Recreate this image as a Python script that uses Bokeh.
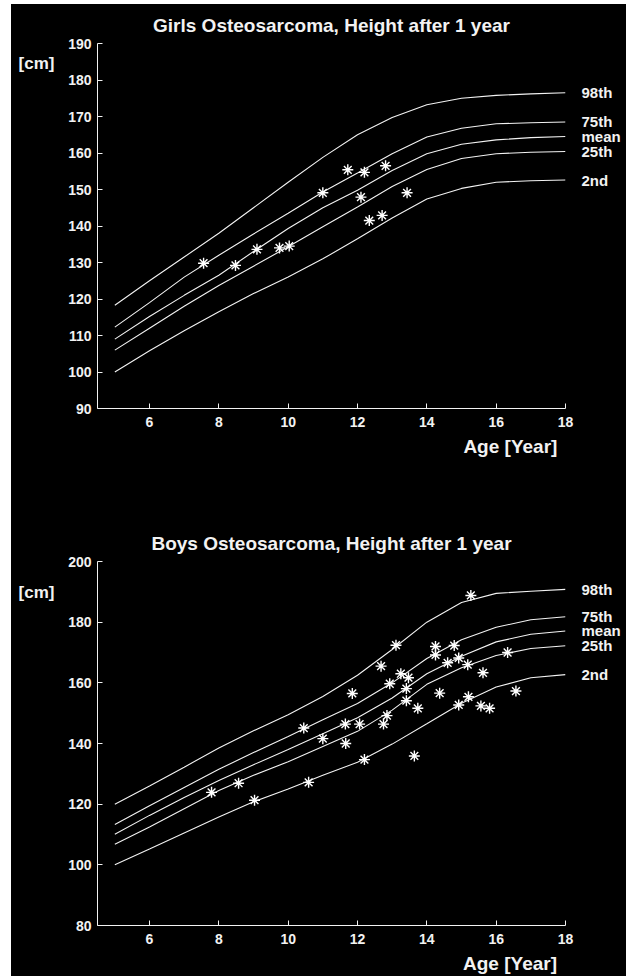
from bokeh.plotting import figure
from bokeh.models import FixedTicker, Range1d, LinearAxis
from bokeh.layouts import column
from bokeh.embed import file_html
from bokeh.resources import INLINE

# ---------------- data ----------------
ages = [5, 6, 7, 8, 9, 10, 11, 12, 13, 14, 15, 16, 17, 18]

girls_p98 = [118.3, 125.0, 131.5, 138.0, 145.0, 152.0, 158.8, 165.0, 169.7, 173.2, 175.0, 175.8, 176.2, 176.5]
girls_p75 = [112.3, 119.0, 126.0, 132.0, 137.8, 143.5, 149.3, 154.5, 159.8, 164.4, 166.8, 168.0, 168.3, 168.5]
girls_mean = [109.0, 115.2, 121.0, 126.5, 133.0, 139.3, 145.0, 149.8, 155.2, 159.8, 162.4, 163.6, 164.2, 164.5]
girls_p25 = [106.0, 112.0, 118.0, 123.7, 129.0, 134.3, 139.8, 145.2, 150.8, 155.5, 158.5, 159.8, 160.2, 160.4]
girls_p2 = [100.0, 105.8, 111.3, 116.5, 121.5, 126.0, 131.0, 136.5, 142.2, 147.4, 150.3, 152.0, 152.4, 152.6]

girls_age = [7.56, 8.48, 9.10, 9.75, 10.03, 11.0, 11.72, 12.2, 12.81, 12.1, 13.43, 12.34, 12.71]
girls_height = [129.8, 129.2, 133.6, 134.0, 134.5, 149.1, 155.4, 154.7, 156.5, 147.9, 149.1, 141.5, 142.9]

boys_p98 = [120.0, 126.0, 132.2, 138.5, 144.2, 149.5, 155.5, 162.5, 171.0, 180.0, 186.5, 189.5, 190.2, 190.8]
boys_p75 = [113.3, 119.5, 125.5, 131.5, 137.0, 142.3, 147.8, 153.2, 160.0, 168.0, 174.2, 178.3, 180.8, 181.8]
boys_mean = [110.1, 116.3, 122.2, 127.8, 133.0, 138.0, 143.2, 148.5, 155.0, 163.0, 168.8, 173.5, 176.0, 177.1]
boys_p25 = [106.8, 112.5, 118.5, 124.5, 129.5, 134.0, 139.0, 144.0, 151.0, 159.5, 165.0, 169.0, 171.3, 172.2]
boys_p2 = [100.0, 105.2, 110.5, 115.8, 120.8, 125.0, 129.5, 133.8, 139.8, 146.5, 153.3, 158.6, 161.7, 162.7]

boys_age = [7.79, 8.57, 9.03, 10.45, 10.59, 11.0,
            15.27, 13.11, 12.68, 11.85, 14.25, 14.79, 14.25, 14.92, 14.6, 15.18,
            16.33, 13.25, 13.47, 12.93, 13.41, 13.41, 15.62, 14.37, 13.74, 12.85,
            12.75, 12.06, 11.65, 11.66, 12.2, 13.64, 15.2, 14.92, 15.56, 15.81, 16.57]
boys_height = [123.9, 126.9, 121.3, 145.1, 127.2, 141.6,
               188.8, 172.4, 165.5, 156.5, 172.0, 172.3, 169.2, 168.2, 166.6, 166.0,
               170.0, 163.0, 161.7, 159.7, 158.1, 154.1, 163.3, 156.6, 151.6, 149.2,
               146.4, 146.4, 146.4, 140.0, 134.7, 135.9, 155.4, 152.7, 152.4, 151.6, 157.3]

curve_names = ["98th", "75th", "mean", "25th", "2nd"]
x_ticks = [6, 8, 10, 12, 14, 16, 18]
girls_y_ticks = [90, 100, 110, 120, 130, 140, 150, 160, 170, 180, 190]
boys_y_ticks = [80, 100, 120, 140, 160, 180, 200]

FONT = "Liberation Sans"
FG = "#f2f2f2"


def text_axis(p, side, where, label, size, standoff):
    """An axis with no line and no tick marks, used only to carry one text."""
    ax = LinearAxis(ticker=FixedTicker(ticks=[where]),
                    major_label_overrides={where: label},
                    axis_line_color=None, major_tick_line_color=None,
                    minor_tick_line_color=None,
                    major_label_text_color=FG, major_label_text_font=FONT,
                    major_label_text_font_style="bold",
                    major_label_text_font_size=size,
                    major_label_standoff=standoff)
    p.add_layout(ax, side)
    return ax


def make_panel(title, curves, s_age, s_height, y_lo, y_hi, y_ticks,
               height, border_top, border_bottom, cm_at, age_at):
    p = figure(width=615, height=height, output_backend="svg", toolbar_location=None,
               x_range=Range1d(4.5, 18), y_range=Range1d(y_lo, y_hi),
               min_border_left=86, min_border_right=61,
               min_border_top=border_top, min_border_bottom=border_bottom,
               background_fill_color="black", border_fill_color="black",
               outline_line_color=None)
    p.grid.visible = False
    for ax, ticks in ((p.xaxis[0], x_ticks), (p.yaxis[0], y_ticks)):
        ax.ticker = FixedTicker(ticks=ticks)
        ax.axis_line_color = FG
        ax.major_tick_line_color = FG
        ax.minor_tick_line_color = None
        ax.major_tick_in = 5
        ax.major_tick_out = 0
        ax.major_label_text_color = FG
        ax.major_label_text_font = FONT
        ax.major_label_text_font_style = "bold"
        ax.major_label_text_font_size = "14px"
    p.xaxis[0].major_label_standoff = 8
    p.yaxis[0].major_label_standoff = 6

    p.title.text = title
    p.title.align = "center"
    p.title.offset = 5
    p.title.standoff = 16
    p.title.text_color = FG
    p.title.text_font = FONT
    p.title.text_font_style = "bold"
    p.title.text_font_size = "19px"

    for vals in curves:
        p.line(ages, vals, line_color=FG, line_width=1.1)

    # curve names at the right end of each curve
    ends = [vals[-1] for vals in curves]
    right = LinearAxis(ticker=FixedTicker(ticks=ends),
                       major_label_overrides={e: n for e, n in zip(ends, curve_names)},
                       axis_line_color=None, major_tick_line_color=None,
                       minor_tick_line_color=None,
                       major_label_text_color=FG, major_label_text_font=FONT,
                       major_label_text_font_style="bold",
                       major_label_text_font_size="15px",
                       major_label_standoff=10)
    p.add_layout(right, "right")

    text_axis(p, "left", cm_at, "[cm]", "17px", 5)
    text_axis(p, "below", age_at, "Age [Year]", "19px", 0)

    p.scatter(s_age, s_height, marker="asterisk", size=11, line_color="white",
              line_width=1.4)
    return p


girls = make_panel("Girls Osteosarcoma, Height after 1 year",
                   [girls_p98, girls_p75, girls_mean, girls_p25, girls_p2],
                   girls_age, girls_height, 90, 190, girls_y_ticks,
                   486, 39, 82, 184.5, 16.41)
boys = make_panel("Boys Osteosarcoma, Height after 1 year",
                  [boys_p98, boys_p75, boys_mean, boys_p25, boys_p2],
                  boys_age, boys_height, 80, 200, boys_y_ticks,
                  486, 71, 47, 189.8, 16.40)

layout = column(girls, boys, spacing=0,
                styles={"background-color": "black", "margin-left": "11px",
                        "margin-top": "4px"})
open("out.html", "w").write(file_html(layout, INLINE))
